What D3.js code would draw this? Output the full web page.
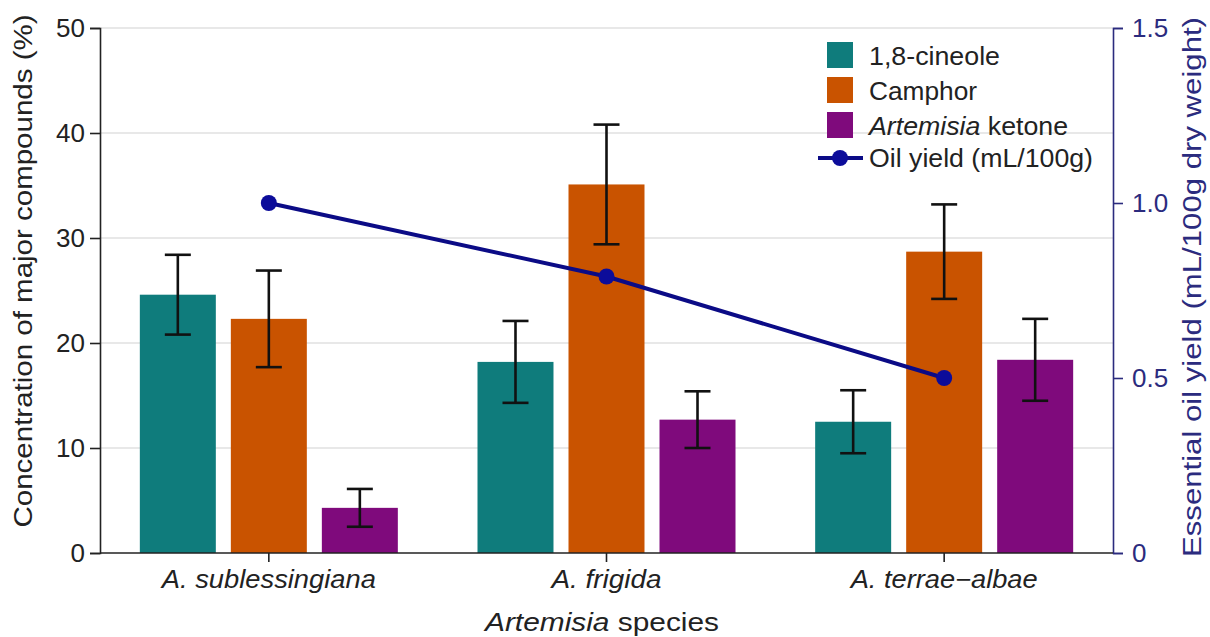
<!DOCTYPE html>
<html><head><meta charset="utf-8">
<script src="https://cdn.jsdelivr.net/npm/d3@7"></script>
<style>body{margin:0;background:#fff;} text{font-family:"Liberation Sans",Arial,sans-serif;}</style>
</head><body>
<svg id="c" width="1210" height="637"></svg>
<script>
const species = ["A. sublessingiana", "A. frigida", "A. terrae\u2212albae"];
const compounds = ["1,8-cineole", "Camphor", "Artemisia ketone"];
const cineole = [24.6, 18.2, 12.5];
const cineoleErr = [3.8, 3.9, 3.0];
const camphor = [22.3, 35.1, 28.7];
const camphorErr = [4.6, 5.7, 4.5];
const ketone = [4.3, 12.7, 18.4];
const ketoneErr = [1.8, 2.7, 3.9];
const oilYield = [1.0, 0.79, 0.5];
const leftTicks = [0, 10, 20, 30, 40, 50];
const rightTicks = [0, 0.5, 1.0, 1.5];
const colors = ["#0f7c7c", "#c95300", "#7f0a7c"];
const navy = "#0b0b86";

const svg = d3.select("#c");
const L = 100, R = 1113, T = 28, B = 553;
const x = d3.scaleBand().domain(species).range([L, R]).padding(0);
const inner = d3.scaleBand().domain(compounds).range([0, 258]).paddingInner(0.165).paddingOuter(0);
const y = d3.scaleLinear().domain([0, 50]).range([B, T]);
const y2 = d3.scaleLinear().domain([0, 1.5]).range([B, T]);

// gridlines
svg.append("g").selectAll("line").data(leftTicks.slice(1)).join("line")
  .attr("x1", L).attr("x2", R).attr("y1", d => y(d)).attr("y2", d => y(d))
  .attr("stroke", "#e0e0e0").attr("stroke-width", 1.5);

const series = [
  {name: compounds[0], vals: cineole, err: cineoleErr},
  {name: compounds[1], vals: camphor, err: camphorErr},
  {name: compounds[2], vals: ketone, err: ketoneErr}
];
const groupOffset = (x.bandwidth() - 258) / 2;
series.forEach((s, si) => {
  const g = svg.append("g");
  species.forEach((sp, i) => {
    const bx = x(sp) + groupOffset + inner(s.name);
    g.append("rect").attr("x", bx).attr("width", inner.bandwidth())
      .attr("y", y(s.vals[i])).attr("height", y(0) - y(s.vals[i]))
      .attr("fill", colors[si]);
  });
});
// error bars
series.forEach((s) => {
  const g = svg.append("g").attr("stroke", "#111").attr("stroke-width", 2.6);
  species.forEach((sp, i) => {
    const cx = x(sp) + groupOffset + inner(s.name) + inner.bandwidth() / 2;
    const hi = y(s.vals[i] + s.err[i]), lo = y(s.vals[i] - s.err[i]);
    g.append("line").attr("x1", cx).attr("x2", cx).attr("y1", hi).attr("y2", lo);
    g.append("line").attr("x1", cx - 13).attr("x2", cx + 13).attr("y1", hi).attr("y2", hi);
    g.append("line").attr("x1", cx - 13).attr("x2", cx + 13).attr("y1", lo).attr("y2", lo);
  });
});

// line
const line = d3.line().x((d, i) => x(species[i]) + x.bandwidth() / 2).y(d => y2(d));
svg.append("path").datum(oilYield).attr("d", line).attr("fill", "none")
  .attr("stroke", navy).attr("stroke-width", 4);
svg.append("g").selectAll("circle").data(oilYield).join("circle")
  .attr("cx", (d, i) => x(species[i]) + x.bandwidth() / 2).attr("cy", d => y2(d))
  .attr("r", 8).attr("fill", "#0c0c9a");

// axes
const fs = 26;
const ax = svg.append("g").attr("transform", `translate(${L},0)`)
  .call(d3.axisLeft(y).tickValues(leftTicks).tickSize(10).tickPadding(5).tickFormat(d3.format("d")));
ax.select(".domain").attr("stroke", "#222").attr("stroke-width", 1.6);
ax.selectAll(".tick line").attr("stroke", "#222").attr("stroke-width", 1.6);
ax.selectAll("text").attr("font-size", fs).attr("fill", "#222");

const ax2 = svg.append("g").attr("transform", `translate(${R},0)`)
  .call(d3.axisRight(y2).tickValues(rightTicks).tickSize(10).tickPadding(9).tickFormat(d => d === 0 ? "0" : d3.format(".1f")(d)));
ax2.select(".domain").attr("stroke", "#2b2b7e").attr("stroke-width", 1.6);
ax2.selectAll(".tick line").attr("stroke", "#2b2b7e").attr("stroke-width", 1.6);
ax2.selectAll("text").attr("font-size", fs).attr("fill", "#2b2b7e");

const xLabelWidths = [214, 110, 187];
const axb = svg.append("g").attr("transform", `translate(0,${B})`)
  .call(d3.axisBottom(x).tickSize(9).tickPadding(8));
axb.select(".domain").attr("stroke", "#222").attr("stroke-width", 1.6).attr("d", `M${L},0H${R}`);
axb.selectAll(".tick line").attr("stroke", "#222").attr("stroke-width", 1.6);
axb.selectAll("text").attr("font-size", 25).attr("font-style", "italic").attr("fill", "#222")
  .attr("textLength", (d, i) => xLabelWidths[i]).attr("lengthAdjust", "spacingAndGlyphs");

// titles
svg.append("text").attr("transform", "translate(32,271) rotate(-90)")
  .attr("text-anchor", "middle").attr("font-size", 25).attr("fill", "#222")
  .attr("textLength", 513).attr("lengthAdjust", "spacingAndGlyphs")
  .text("Concentration of major compounds (%)");
svg.append("text").attr("transform", "translate(1201,287) rotate(-90)")
  .attr("text-anchor", "middle").attr("font-size", 25).attr("fill", "#2b2b7e")
  .attr("textLength", 540).attr("lengthAdjust", "spacingAndGlyphs")
  .text("Essential oil yield (mL/100g dry weight)");
const xt = svg.append("text").attr("x", 602).attr("y", 631).attr("text-anchor", "middle")
  .attr("font-size", 26).attr("fill", "#222")
  .attr("textLength", 234).attr("lengthAdjust", "spacingAndGlyphs");
xt.append("tspan").attr("font-style", "italic").text("Artemisia");
xt.append("tspan").text(" species");

// legend
const lg = svg.append("g");
const legendY = [42, 77, 112];
const legendW = [131, 108, 199];
compounds.forEach((c, i) => {
  lg.append("rect").attr("x", 827).attr("y", legendY[i]).attr("width", 26).attr("height", 26).attr("fill", colors[i]);
  const t = lg.append("text").attr("x", 869).attr("y", legendY[i] + 23).attr("font-size", 25).attr("fill", "#222")
    .attr("textLength", legendW[i]).attr("lengthAdjust", "spacingAndGlyphs");
  if (i === 2) { t.append("tspan").attr("font-style", "italic").text("Artemisia"); t.append("tspan").text(" ketone"); }
  else t.text(c);
});
lg.append("line").attr("x1", 818).attr("x2", 863).attr("y1", 158).attr("y2", 158).attr("stroke", navy).attr("stroke-width", 4);
lg.append("circle").attr("cx", 840).attr("cy", 158).attr("r", 8).attr("fill", "#0c0c9a");
lg.append("text").attr("x", 869).attr("y", 167).attr("font-size", 25).attr("fill", "#222")
  .attr("textLength", 224).attr("lengthAdjust", "spacingAndGlyphs").text("Oil yield (mL/100g)");
</script>
</body></html>
